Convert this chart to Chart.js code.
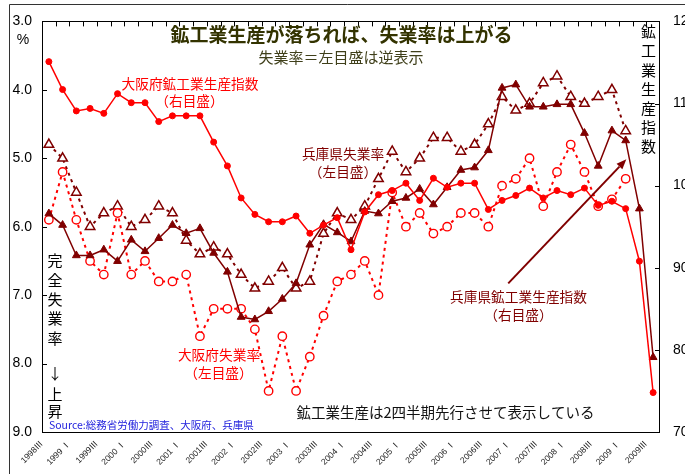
<!DOCTYPE html>
<html>
<head>
<meta charset="utf-8">
<script src="https://cdn.jsdelivr.net/npm/chart.js@4.4.1/dist/chart.umd.min.js"></script>
<style>
html,body{margin:0;padding:0;background:#fff;overflow:hidden;}
canvas{display:block;}
</style>
</head>
<body>
<canvas id="c" width="685" height="474"></canvas>
<script>
// Quarters (鉱工業生産は2四半期先行させて表示)
const categories = [
  "1998Ⅲ","1998Ⅳ","1999 Ⅰ","1999Ⅱ","1999Ⅲ","1999Ⅳ","2000 Ⅰ","2000Ⅱ","2000Ⅲ","2000Ⅳ",
  "2001 Ⅰ","2001Ⅱ","2001Ⅲ","2001Ⅳ","2002 Ⅰ","2002Ⅱ","2002Ⅲ","2002Ⅳ","2003 Ⅰ","2003Ⅱ",
  "2003Ⅲ","2003Ⅳ","2004 Ⅰ","2004Ⅱ","2004Ⅲ","2004Ⅳ","2005 Ⅰ","2005Ⅱ","2005Ⅲ","2005Ⅳ",
  "2006 Ⅰ","2006Ⅱ","2006Ⅲ","2006Ⅳ","2007 Ⅰ","2007Ⅱ","2007Ⅲ","2007Ⅳ","2008 Ⅰ","2008Ⅱ",
  "2008Ⅲ","2008Ⅳ","2009 Ⅰ","2009Ⅱ","2009Ⅲ"
];

// 大阪府鉱工業生産指数（右目盛）
const osakaIndex = [
  115.1, 111.7, 109.1, 109.4, 108.8, 111.2, 110.1, 110.1, 107.8, 108.5,
  108.5, 108.5, 105.3, 102.4, 98.5, 96.5, 95.6, 95.6, 96.3, 94.2,
  95.2, 96.1, 92.2, 96.8, 98.9, 99.4, 100.3, 98.2, 100.9, 99.8,
  100.3, 100.3, 97.1, 98.2, 98.8, 99.7, 98.5, 99.4, 98.9, 99.7,
  97.6, 98.1, 97.2, 90.8, 74.8
];

// 兵庫県鉱工業生産指数（右目盛）
const hyogoIndex = [
  96.6, 95.2, 91.5, 91.5, 92.2, 90.8, 93.4, 92.0, 93.6, 95.2,
  94.2, 94.8, 91.8, 89.5, 84.0, 83.7, 84.7, 86.2, 88.1, 92.8,
  95.3, 94.3, 93.2, 96.9, 96.6, 98.1, 98.5, 99.6, 97.7, 99.8,
  101.9, 102.2, 104.3, 111.9, 112.3, 109.6, 109.6, 109.9, 109.9, 106.4,
  102.4, 106.7, 105.5, 97.2, 79.1
];

// 大阪府失業率（左目盛, %）
const osakaUnemp = [
  5.9, 5.2, 5.9, 6.5, 6.7, 5.8, 6.7, 6.5, 6.8, 6.8,
  6.7, 7.6, 7.2, 7.2, 7.2, 7.5, 8.4, 7.6, 8.4, 7.9,
  7.3, 6.8, 6.7, 6.5, 7.0, 5.5, 6.0, 5.8, 6.1, 6.0,
  5.8, 5.8, 6.0, 5.4, 5.3, 5.0, 5.7, 5.2, 4.8, 5.2,
  5.7, 5.6, 5.3, null, null
];

// 兵庫県失業率（左目盛, %）
const hyogoUnemp = [
  4.8, 5.0, 5.5, 6.0, 5.8, 5.7, 6.0, 5.9, 5.7, 5.8,
  6.2, 6.4, 6.3, 6.4, 6.7, 6.9, 6.8, 6.6, 6.9, 6.8,
  6.1, 5.8, 5.9, 5.7, 5.3, 4.9, 5.2, 5.0, 4.7, 4.7,
  4.9, 4.8, 4.5, 4.1, 4.3, 4.2, 3.9, 3.8, 4.1, 4.2,
  4.1, 4.0, 4.6, null, null
];

const leftTicks = [3, 4, 5, 6, 7, 8, 9];
const rightTicks = [70, 80, 90, 100, 110, 120];

const RED = '#ff0000';
const MAROON = '#800000';
const JP = '"Noto Sans CJK JP", "Noto Sans", sans-serif';
const LAT = '"Liberation Sans", Arial, "Noto Sans CJK JP", sans-serif';

const decor = {
  id: 'decor',
  beforeDraw(chart) {
    const ctx = chart.ctx;
    ctx.save();
    ctx.fillStyle = '#fff';
    ctx.fillRect(0, 0, chart.width, chart.height);
    ctx.restore();
  },
  afterDraw(chart) {
    const ctx = chart.ctx;
    const a = chart.chartArea;
    const x = chart.scales.x, yL = chart.scales.yL, yR = chart.scales.yR;
    ctx.save();
    // outer frame
    ctx.strokeStyle = '#333';
    ctx.lineWidth = 1;
    ctx.beginPath();
    ctx.moveTo(9.5, 474); ctx.lineTo(9.5, 4.5); ctx.lineTo(685, 4.5);
    ctx.stroke();
    // plot frame
    ctx.strokeStyle = '#000';
    ctx.strokeRect(Math.round(a.left) + 0.5, Math.round(a.top) + 0.5, Math.round(a.width) - 1, Math.round(a.height));
    // inward ticks
    ctx.beginPath();
    leftTicks.forEach(v => {
      const yy = Math.round(yL.getPixelForValue(v)) + 0.5;
      ctx.moveTo(a.left, yy); ctx.lineTo(a.left + 5, yy);
    });
    rightTicks.forEach(v => {
      const yy = Math.round(yR.getPixelForValue(v)) + 0.5;
      ctx.moveTo(a.right - 5, yy); ctx.lineTo(a.right, yy);
    });
    for (let i = 1; i < categories.length; i++) {
      const xx = Math.round((x.getPixelForValue(i - 1) + x.getPixelForValue(i)) / 2) + 0.5;
      ctx.moveTo(xx, a.top); ctx.lineTo(xx, a.top + 5);
    }
    ctx.stroke();

    const txt = (s, px, py, font, color, align) => {
      ctx.font = font;
      ctx.fillStyle = color;
      ctx.textAlign = align || 'center';
      ctx.textBaseline = 'middle';
      ctx.fillText(s, px, py);
    };

    // title
    txt('鉱工業生産が落ちれば、失業率は上がる', 341.5, 35, 'bold 19px ' + JP, '#333300');
    txt('失業率＝左目盛は逆表示', 341, 57, '15px ' + JP, '#3f3f1a');
    // % unit
    txt('%', 23, 40, '14px ' + LAT, '#000');

    // series labels
    const f = '13.7px ' + JP;
    txt('大阪府鉱工業生産指数', 190, 83.5, f, RED);
    txt('（右目盛）', 189.5, 101, f, RED);
    txt('兵庫県失業率', 343, 153.5, f, MAROON);
    txt('（左目盛）', 343, 171.5, f, MAROON);
    txt('大阪府失業率', 219, 354.5, f, RED);
    txt('（左目盛）', 218.5, 372.5, f, RED);
    txt('兵庫県鉱工業生産指数', 518.5, 296.5, f, MAROON);
    txt('（右目盛）', 518.5, 315, f, MAROON);

    // notes
    txt('鉱工業生産は2四半期先行させて表示している', 296.5, 412, '14.5px ' + JP, '#111', 'left');
    txt('Source:総務省労働力調査、大阪府、兵庫県', 49, 425, '10.5px ' + JP, '#2222dd', 'left');

    // vertical axis titles
    const vl = [['完', 260], ['全', 280], ['失', 299.5], ['業', 318.5], ['率', 338], ['↓', 373], ['上', 394], ['昇', 411.5]];
    vl.forEach(([c, yy]) => txt(c, 55, yy, '15px ' + JP, '#000'));
    const vr = ['鉱', '工', '業', '生', '産', '指', '数'];
    vr.forEach((c, i) => txt(c, 648.5, 31.5 + i * 19.2, '15px ' + JP, '#000'));

    // arrow pointing to 兵庫県鉱工業生産指数 line
    const x0 = x.getPixelForValue(33.45), y0 = yR.getPixelForValue(88.1);
    const x1 = x.getPixelForValue(42.05), y1 = yR.getPixelForValue(103.2);
    const ang = Math.atan2(y1 - y0, x1 - x0);
    const hl = 10, hw = 4;
    ctx.strokeStyle = MAROON;
    ctx.fillStyle = MAROON;
    ctx.lineWidth = 2;
    ctx.beginPath();
    ctx.moveTo(x0, y0);
    ctx.lineTo(x1 - Math.cos(ang) * hl, y1 - Math.sin(ang) * hl);
    ctx.stroke();
    ctx.beginPath();
    ctx.moveTo(x1, y1);
    ctx.lineTo(x1 - Math.cos(ang) * hl - Math.sin(ang) * hw, y1 - Math.sin(ang) * hl + Math.cos(ang) * hw);
    ctx.lineTo(x1 - Math.cos(ang) * hl + Math.sin(ang) * hw, y1 - Math.sin(ang) * hl - Math.cos(ang) * hw);
    ctx.closePath();
    ctx.fill();
    ctx.restore();
  }
};

new Chart(document.getElementById('c'), {
  type: 'line',
  data: {
    labels: categories,
    datasets: [
      {
        label: '大阪府鉱工業生産指数',
        data: osakaIndex,
        yAxisID: 'yR',
        borderColor: RED,
        backgroundColor: RED,
        borderWidth: 1.5,
        pointStyle: 'circle',
        pointRadius: 3,
        pointBorderWidth: 1,
        tension: 0
      },
      {
        label: '兵庫県鉱工業生産指数',
        data: hyogoIndex,
        yAxisID: 'yR',
        borderColor: MAROON,
        backgroundColor: MAROON,
        borderWidth: 1.5,
        pointStyle: 'triangle',
        pointRadius: 4.5,
        pointBorderWidth: 1,
        tension: 0
      },
      {
        label: '大阪府失業率',
        data: osakaUnemp,
        yAxisID: 'yL',
        borderColor: RED,
        backgroundColor: '#fff',
        borderWidth: 2,
        borderDash: [3, 4],
        pointStyle: 'circle',
        pointRadius: 4.2,
        pointBorderWidth: 1.4,
        pointBorderColor: RED,
        pointBackgroundColor: '#fff',
        tension: 0
      },
      {
        label: '兵庫県失業率',
        data: hyogoUnemp,
        yAxisID: 'yL',
        borderColor: MAROON,
        backgroundColor: '#fff',
        borderWidth: 2,
        borderDash: [3, 4],
        pointStyle: 'triangle',
        pointRadius: 5.5,
        pointBorderWidth: 1.5,
        pointBorderColor: MAROON,
        pointBackgroundColor: '#fff',
        tension: 0
      }
    ]
  },
  options: {
    responsive: false,
    animation: false,
    devicePixelRatio: 1,
    layout: { padding: { top: 15, left: 0, right: 0, bottom: 0 } },
    plugins: {
      legend: { display: false },
      tooltip: { enabled: false },
      title: { display: false }
    },
    scales: {
      x: {
        type: 'category',
        offset: true,
        grid: { display: false, drawTicks: false },
        border: { display: false },
        ticks: {
          autoSkip: false,
          minRotation: 45,
          maxRotation: 45,
          padding: 7,
          labelOffset: -7,
          color: '#222',
          font: { size: 8.5, family: LAT },
          callback: function (v, i) { return i % 2 === 0 ? this.getLabelForValue(v) : ''; }
        },
        afterFit: s => { s.height = 42; }
      },
      yL: {
        position: 'left',
        reverse: true,
        min: 3,
        max: 9,
        afterBuildTicks: s => { s.ticks = leftTicks.map(v => ({ value: v })); },
        grid: { display: false, drawTicks: false },
        border: { display: false },
        ticks: {
          padding: 10,
          color: '#000',
          font: { size: 14, family: LAT },
          callback: v => Number(v).toFixed(1)
        },
        afterFit: s => { s.width = 42; }
      },
      yR: {
        position: 'right',
        min: 70,
        max: 120,
        afterBuildTicks: s => { s.ticks = rightTicks.map(v => ({ value: v })); },
        grid: { display: false, drawTicks: false },
        border: { display: false },
        ticks: {
          padding: 13,
          color: '#000',
          font: { size: 14, family: LAT },
          callback: v => String(v)
        },
        afterFit: s => { s.width = 25; }
      }
    }
  },
  plugins: [decor]
});
</script>
</body>
</html>
